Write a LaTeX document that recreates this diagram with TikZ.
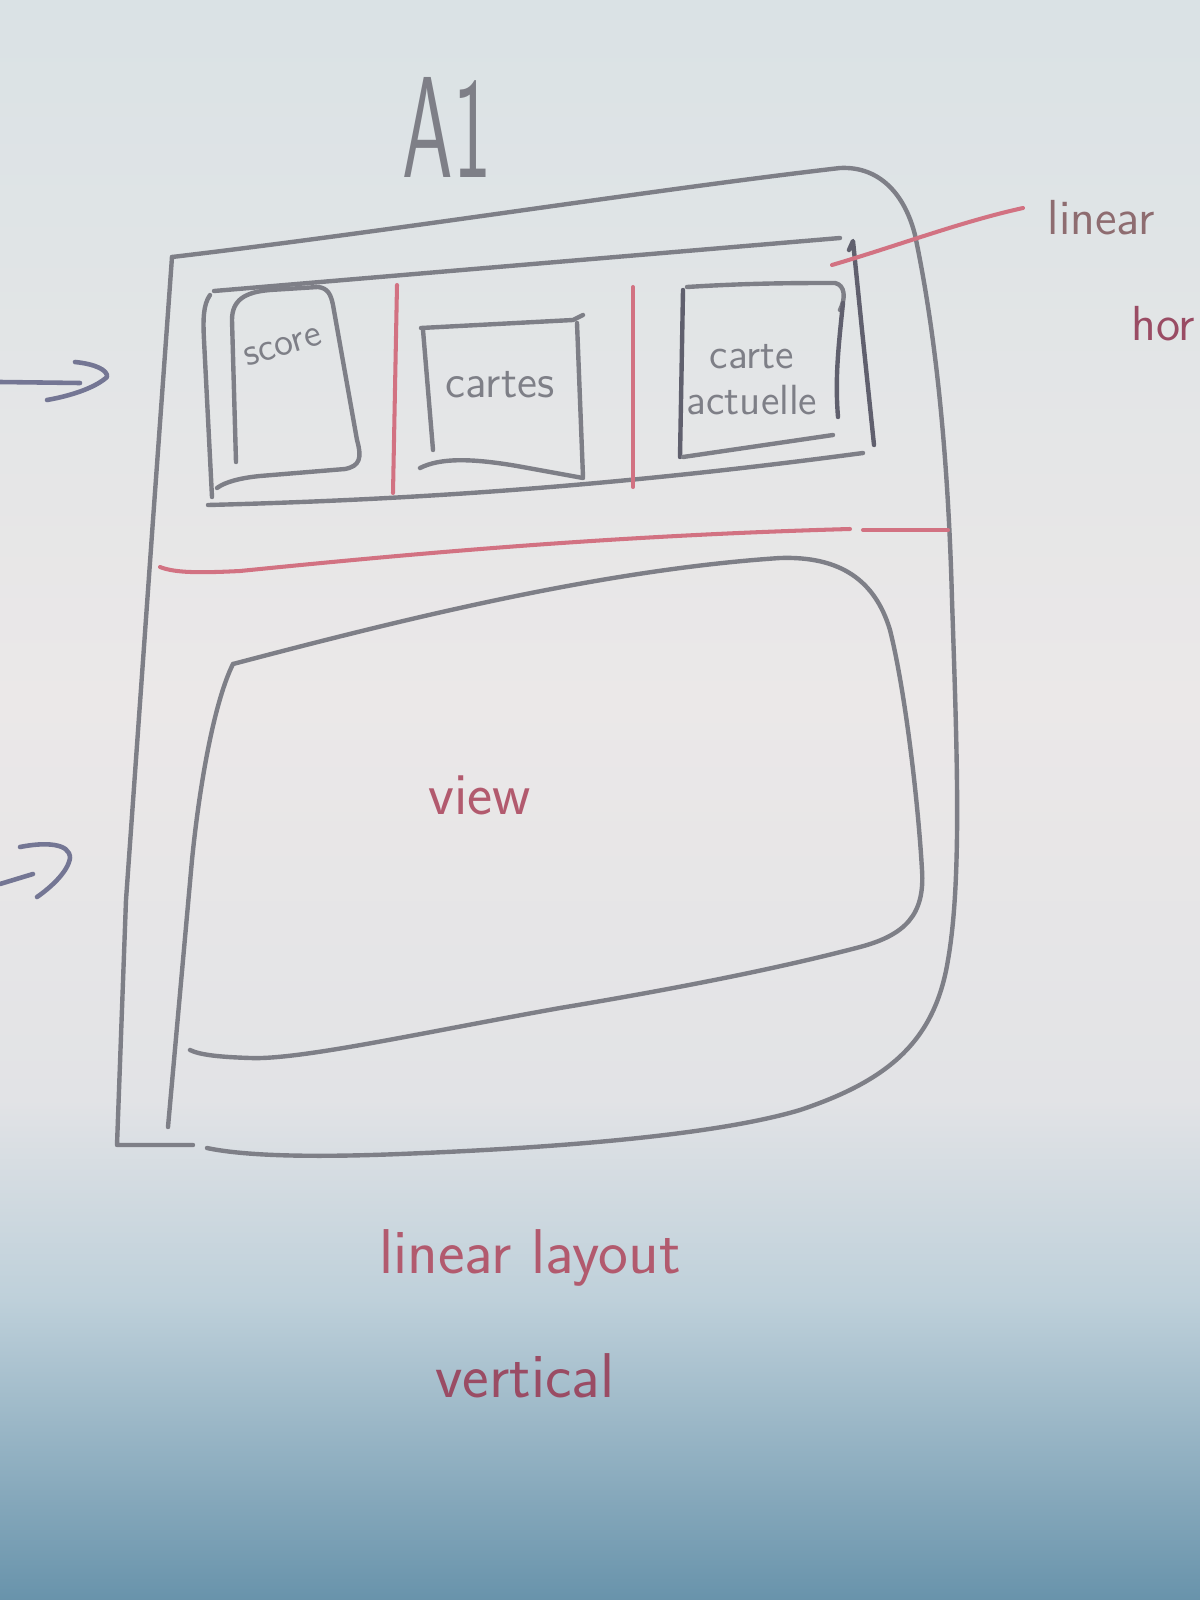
\documentclass[tikz,border=0pt]{standalone}
\usepackage{fontspec}
\usepackage{graphicx}
\definecolor{penGrey}{HTML}{7E7F87}
\definecolor{penDark}{HTML}{60606E}
\definecolor{penRed}{HTML}{D27282}
\definecolor{inkRed}{HTML}{B25A6E}
\definecolor{inkPlum}{HTML}{9A4C64}
\definecolor{inkBrown}{HTML}{8E6C70}
\definecolor{penBlue}{HTML}{747694}
\definecolor{boardA}{HTML}{DAE2E5}
\definecolor{boardB}{HTML}{EBE8E8}
\definecolor{boardC}{HTML}{E2E3E6}
\definecolor{boardD}{HTML}{BED0DA}
\definecolor{boardE}{HTML}{6893AB}
\begin{document}
\begin{tikzpicture}[x=0.01cm,y=-0.01cm,
  pen/.style={draw=penGrey, line width=1.25pt, line cap=round, line join=round},
  darkpen/.style={draw=penDark, line width=1.25pt, line cap=round, line join=round},
  redpen/.style={draw=penRed, line width=1.15pt, line cap=round, line join=round},
  bluepen/.style={draw=penBlue, line width=1.3pt, line cap=round, line join=round},
  greytext/.style={text=penGrey, inner sep=0pt, font=\sffamily},
  redtext/.style={text=inkRed, inner sep=0pt, font=\sffamily}]

% whiteboard
\useasboundingbox (0,0) rectangle (1200,1600);
\clip (0,0) rectangle (1200,1600);
\shade[top color=boardA, bottom color=boardB] (0,-1) rectangle (1200,701);
\shade[top color=boardB, bottom color=boardC] (0,700) rectangle (1200,1101);
\shade[top color=boardC, bottom color=boardD] (0,1100) rectangle (1200,1301);
\shade[top color=boardD, bottom color=boardE] (0,1300) rectangle (1200,1601);

% title
\node[greytext, font=\sffamily\fontsize{20}{22}\selectfont, xscale=1.15, yscale=2.05] (title) at (447,127) {A1};

% outer frame (vertical linear layout)
\draw[pen] (172,257) .. controls (400,230) and (650,190) .. (840,168)
  .. controls (880,166) and (905,195) .. (915,235)
  .. controls (935,330) and (948,450) .. (952,600)
  .. controls (957,750) and (962,880) .. (948,960)
  .. controls (935,1040) and (890,1080) .. (800,1110)
  .. controls (700,1140) and (500,1150) .. (400,1154)
  .. controls (300,1158) and (240,1155) .. (207,1148);
\draw[pen] (172,257) -- (153,520) -- (126,900) -- (117,1145) -- (193,1145);

% inner horizontal container
\draw[pen] (214,291) -- (840,238);
\draw[pen] (210,295) .. controls (203,305) and (203,320) .. (204,340) -- (212,497);
\draw[pen] (208,505) .. controls (400,500) and (600,488) .. (863,453);
\draw[darkpen] (849,250) -- (853,241) -- (862,330) -- (874,445);

% score box
\draw[pen] (236,462) -- (232,320) .. controls (232,300) and (245,292) .. (270,290) -- (318,287)
  .. controls (328,288) and (331,295) .. (333,305) -- (357,440)
  .. controls (362,458) and (360,466) .. (345,469) -- (260,476)
  .. controls (240,478) and (225,482) .. (217,488);
\node[greytext, font=\sffamily\fontsize{11}{13}\selectfont, rotate=17] (score) at (283,347) {score};

% cartes box
\draw[pen] (423,330) -- (433,450);
\draw[pen] (421,328) -- (573,320) -- (583,315);
\draw[pen] (577,323) -- (583,477);
\draw[pen] (420,468) .. controls (440,458) and (470,458) .. (517,466) -- (583,478);
\node[greytext, font=\sffamily\fontsize{13}{15}\selectfont] (cartes) at (500,385) {cartes};

% carte actuelle box
\draw[darkpen] (683,290) -- (680,457);
\draw[pen] (687,287) .. controls (750,283) and (800,283) .. (835,283) .. controls (845,285) and (846,298) .. (840,310);
\draw[darkpen] (843,303) .. controls (838,350) and (835,380) .. (838,417);
\draw[pen] (683,457) -- (833,435);
\node[greytext, align=center, font=\sffamily\fontsize{12}{13}\selectfont] (actuelle) at (752,380) {carte\\actuelle};

% red separators
\draw[redpen] (397,285) -- (393,493);
\draw[redpen] (633,287) -- (633,487);
\draw[redpen] (160,567) .. controls (175,573) and (200,573) .. (240,571) .. controls (400,555) and (600,536) .. (850,529);
\draw[redpen] (863,530) -- (948,530);

% view area
\draw[pen] (233,664) .. controls (400,620) and (600,570) .. (780,558)
  .. controls (840,556) and (875,580) .. (890,630)
  .. controls (905,690) and (918,800) .. (922,870)
  .. controls (925,915) and (905,935) .. (860,947)
  .. controls (780,968) and (680,988) .. (560,1008)
  .. controls (420,1033) and (300,1060) .. (250,1058)
  .. controls (220,1057) and (200,1055) .. (190,1050);
\draw[pen] (233,664) .. controls (215,700) and (200,780) .. (192,860) -- (168,1127);
\node[redtext, font=\sffamily\fontsize{17}{19}\selectfont] (view) at (480,795) {view};

% label of the horizontal container
\coordinate (ptrstart) at (832,265);
\node[text=inkBrown, inner sep=0pt, font=\sffamily\fontsize{14}{16}\selectfont, anchor=base west] (linh) at (1047,235) {linear};
\node[text=inkPlum, inner sep=0pt, font=\sffamily\fontsize{14}{16}\selectfont, anchor=base east] (hor) at (1196,340) {hor};
\coordinate (ptrend) at (1023,208);
\draw[redpen] (ptrstart) .. controls (900,245) and (960,222) .. (ptrend);

% label of the vertical layout
\node[redtext, font=\sffamily\fontsize{18}{20}\selectfont, anchor=base] (linv) at (530,1273) {linear layout};
\node[text=inkPlum, inner sep=0pt, font=\sffamily\fontsize{18}{20}\selectfont, anchor=base] (vert) at (525,1397) {vertical};

% arrows on the left
\coordinate (a1tail) at (0,382);
\coordinate (a1end) at (80,383);
\draw[bluepen] (a1tail) -- (a1end);
\draw[bluepen] (75,362) .. controls (95,364) and (108,370) .. (107,377) .. controls (95,388) and (70,396) .. (47,400);
\coordinate (a2tail) at (0,884);
\coordinate (a2end) at (33,874);
\draw[bluepen] (a2tail) -- (a2end);
\draw[bluepen] (20,847) .. controls (45,842) and (70,843) .. (70,858) .. controls (68,872) and (50,888) .. (37,897);
\end{tikzpicture}
\end{document}
